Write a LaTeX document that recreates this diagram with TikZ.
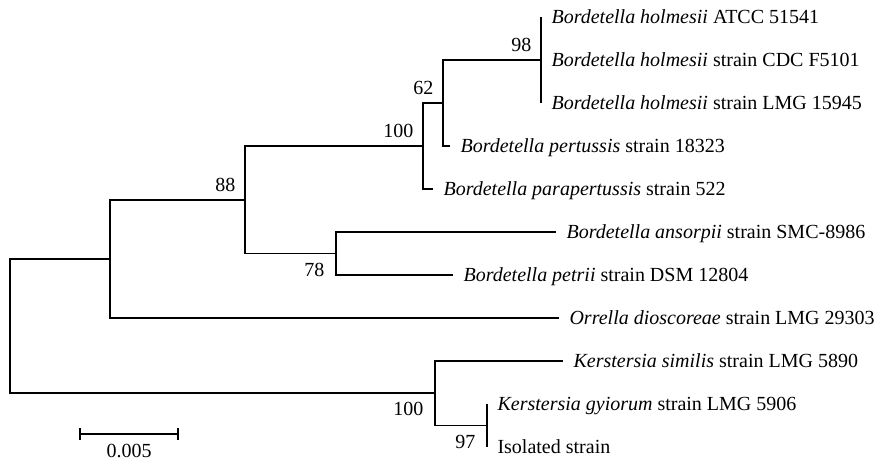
\documentclass[tikz,border=0pt]{standalone}
\usepackage{fontspec}
\setmainfont{Liberation Serif}
\usepackage{tikz}
\usetikzlibrary{positioning,calc}

\begin{document}
\begin{tikzpicture}[x=1pt,y=-1pt,line width=1.1pt,
        hoja/.style={anchor=west,inner xsep=10pt,inner ysep=0pt,text height=13pt,text depth=0pt},
        bsup/.style={anchor=south east,inner sep=0pt,xshift=-9pt,yshift=8pt},
        binf/.style={anchor=north east,inner sep=0pt,xshift=-11pt,yshift=-9pt},
        font=\fontsize{20}{23}\selectfont]
      \useasboundingbox (0,0) rectangle (889,466);
      % nodos internos
      \coordinate (r)   at (10,326);
      \coordinate (n0)  at (110,259);
      \coordinate (n88) at (245,200);
      \coordinate (b100) at (423,146);
      \coordinate (n62) at (443,103);
      \coordinate (n98) at (541,60);
      \coordinate (n78) at (336,253.5);
      \coordinate (k100) at (435,393);
      \coordinate (n97) at (487,425.5);
      % hojas
      \node [hoja] (h1)  at (541,17)  {\textit{Bordetella holmesii} ATCC 51541};
      \node [hoja] (h2)  at (541,60)  {\textit{Bordetella holmesii} strain CDC F5101};
      \node [hoja] (h3)  at (541,103) {\textit{Bordetella holmesii} strain LMG 15945};
      \node [hoja] (per) at (450,146) {\textit{Bordetella pertussis} strain 18323};
      \node [hoja] (par) at (433,189) {\textit{Bordetella parapertussis} strain 522};
      \node [hoja] (ans) at (556,232) {\textit{Bordetella ansorpii} strain SMC-8986};
      \node [hoja] (pet) at (453,275) {\textit{Bordetella petrii} strain DSM 12804};
      \node [hoja] (orr) at (559,318) {\textit{Orrella dioscoreae} strain LMG 29303};
      \node [hoja] (sim) at (563,361) {\textit{Kerstersia similis} strain LMG 5890};
      \node [hoja] (gyi) at (487,404) {\textit{Kerstersia gyiorum} strain LMG 5906};
      \node [hoja] (iso) at (487,447) {Isolated strain};
      \path[draw]
      (r) |- (n0)  (r) |- (k100)
      (n0) |- (n88)  (n0) |- (orr.west)
      (n88) |- (b100)  (n88) |- (n78)
      (b100) |- (n62)  (b100) |- (par.west)
      (n62) |- (n98)  (n62) |- (per.west)
      (n98) |- (h1.west)  (n98) |- (h3.west)
      (n78) |- (ans.west)  (n78) |- (pet.west)
      (k100) |- (sim.west)  (k100) |- (n97)
      (n97) |- (gyi.west)  (n97) |- (iso.west);
      % bootstrap
      \node [bsup] (l98)  at (n98)  {98};
      \node [bsup] (l62)  at (n62)  {62};
      \node [bsup] (l100) at (b100) {100};
      \node [bsup] (l88)  at (n88)  {88};
      \node [binf] (l78)  at (n78)  {78};
      \node [binf] (lk)   at (k100) {100};
      \node [binf] (l97)  at (n97)  {97};
      % escala
      \coordinate (s1) at (80,434);
      \coordinate (s2) at (178,434);
      \draw (s1) -- (s2);
      \draw ([yshift=6pt]s1) -- ([yshift=-6pt]s1);
      \draw ([yshift=6pt]s2) -- ([yshift=-6pt]s2);
      \node [below=10pt of $(s1)!0.5!(s2)$,inner sep=0pt] (esc) {0.005};
    \end{tikzpicture}
\end{document}
